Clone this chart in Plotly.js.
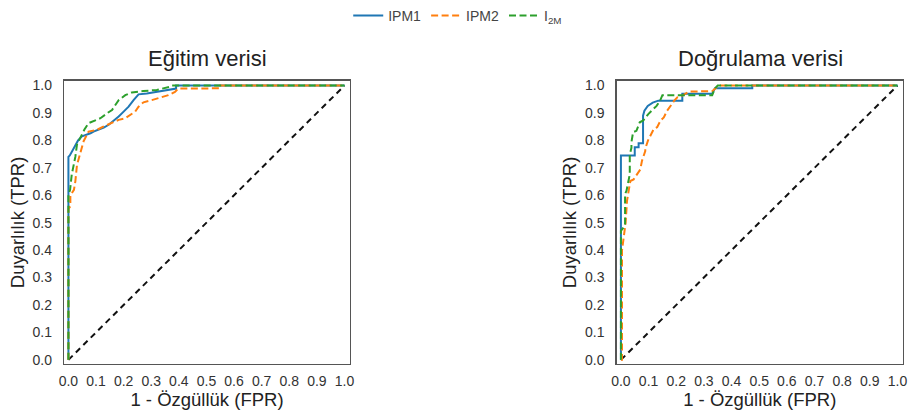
<!DOCTYPE html>
<html>
<head>
<meta charset="utf-8">
<script src="https://cdn.plot.ly/plotly-3.0.1.min.js"></script>
<style>html,body{margin:0;padding:0;background:#fff;}#chart{width:910px;height:415px;}</style>
</head>
<body>
<div id="chart"></div>
<script>
// ---- Data ----
const seriesNames = ["IPM1", "IPM2", "I<sub>2M</sub>"];
const subplotTitles = ["Eğitim verisi", "Doğrulama verisi"];
const tickVals = [0, 0.1, 0.2, 0.3, 0.4, 0.5, 0.6, 0.7, 0.8, 0.9, 1.0];
const tickText = ["0.0","0.1","0.2","0.3","0.4","0.5","0.6","0.7","0.8","0.9","1.0"];
const diagX = [0, 1];
const diagY = [0, 1];

// Training (Eğitim) set
const trainIPM1_fpr = [0, 0, 0.005, 0.01, 0.015, 0.02, 0.03, 0.035, 0.049, 0.067, 0.08, 0.091, 0.11, 0.128, 0.146, 0.164, 0.182, 0.2, 0.218, 0.236, 0.254, 0.284, 0.32, 0.356, 0.39, 0.39, 1];
const trainIPM1_tpr = [0, 0.74, 0.745, 0.755, 0.765, 0.775, 0.79, 0.8, 0.815, 0.82, 0.826, 0.832, 0.839, 0.847, 0.857, 0.871, 0.887, 0.905, 0.923, 0.947, 0.968, 0.971, 0.977, 0.983, 0.989, 1, 1];
const trainIPM2_fpr = [0, 0, 0.007, 0.007, 0.02, 0.025, 0.031, 0.043, 0.055, 0.073, 0.104, 0.128, 0.152, 0.182, 0.206, 0.224, 0.242, 0.254, 0.272, 0.302, 0.332, 0.362, 0.386, 0.398, 0.55, 0.55, 1];
const trainIPM2_tpr = [0, 0.55, 0.56, 0.6, 0.62, 0.65, 0.71, 0.755, 0.797, 0.832, 0.839, 0.851, 0.863, 0.875, 0.881, 0.893, 0.905, 0.923, 0.939, 0.947, 0.955, 0.965, 0.977, 0.989, 0.99, 1, 1];
const trainI2M_fpr = [0, 0, 0.006, 0.012, 0.019, 0.025, 0.031, 0.043, 0.058, 0.073, 0.092, 0.116, 0.14, 0.158, 0.17, 0.182, 0.206, 0.23, 0.272, 0.32, 0.369, 0.375, 1];
const trainI2M_tpr = [0, 0.6, 0.62, 0.675, 0.71, 0.74, 0.785, 0.809, 0.84, 0.863, 0.872, 0.881, 0.899, 0.911, 0.929, 0.947, 0.965, 0.975, 0.98, 0.984, 0.996, 1, 1];

// Validation (Doğrulama) set
const valIPM1_fpr = [0, 0, 0.05, 0.05, 0.064, 0.064, 0.08, 0.08, 0.085, 0.097, 0.115, 0.135, 0.16, 0.222, 0.222, 0.33, 0.34, 0.475, 0.475, 1];
const valIPM1_tpr = [0, 0.745, 0.745, 0.775, 0.775, 0.79, 0.79, 0.89, 0.908, 0.926, 0.938, 0.945, 0.945, 0.945, 0.97, 0.97, 0.99, 0.99, 1, 1];
const valIPM2_fpr = [0, 0.004, 0.004, 0.017, 0.022, 0.034, 0.046, 0.07, 0.076, 0.088, 0.088, 0.098, 0.119, 0.131, 0.143, 0.155, 0.167, 0.179, 0.192, 0.204, 0.222, 0.246, 0.331, 0.345, 0.36, 1];
const valIPM2_tpr = [0, 0, 0.4, 0.5, 0.58, 0.652, 0.658, 0.694, 0.725, 0.761, 0.77, 0.8, 0.842, 0.848, 0.872, 0.884, 0.908, 0.926, 0.944, 0.957, 0.963, 0.978, 0.98, 0.993, 1, 1];
const valI2M_fpr = [0, 0, 0.01, 0.015, 0.015, 0.02, 0.032, 0.032, 0.038, 0.038, 0.044, 0.056, 0.068, 0.081, 0.099, 0.111, 0.129, 0.141, 0.15, 0.33, 0.34, 0.35, 1];
const valI2M_tpr = [0, 0.47, 0.483, 0.496, 0.605, 0.616, 0.676, 0.748, 0.773, 0.793, 0.83, 0.835, 0.866, 0.873, 0.896, 0.908, 0.926, 0.944, 0.965, 0.965, 0.99, 1, 1];

// ---- Styles ----
const colors = ["#1f77b4", "#ff7f0e", "#2ca02c"];
const dashes = ["solid", "7px,3.5px", "7px,3.5px"];
const lw = 2;

function curve(x, y, i, xa, ya, show) {
  return {x: x, y: y, type: "scatter", mode: "lines", name: seriesNames[i],
    xaxis: xa, yaxis: ya, showlegend: show, hoverinfo: "skip",
    line: {color: colors[i], width: lw, dash: dashes[i]}};
}
function diag(xa, ya) {
  return {x: diagX, y: diagY, type: "scatter", mode: "lines", xaxis: xa, yaxis: ya,
    showlegend: false, hoverinfo: "skip", line: {color: "#111", width: 2, dash: "6px,4.5px"}};
}

const traces = [
  diag("x", "y"), diag("x2", "y2"),
  curve(trainIPM1_fpr, trainIPM1_tpr, 0, "x", "y", true),
  curve(trainIPM2_fpr, trainIPM2_tpr, 1, "x", "y", true),
  curve(trainI2M_fpr, trainI2M_tpr, 2, "x", "y", true),
  curve(valIPM1_fpr, valIPM1_tpr, 0, "x2", "y2", false),
  curve(valIPM2_fpr, valIPM2_tpr, 1, "x2", "y2", false),
  curve(valI2M_fpr, valI2M_tpr, 2, "x2", "y2", false)
];

const W = 910, H = 415;
const fontFam = "Liberation Sans, Arial, sans-serif";
const yDom = [1 - 364 / H, 1 - 79 / H];

function xAxis(dom, anchor) {
  return {domain: dom, anchor: anchor, range: [-0.016, 1.02], tickvals: tickVals, ticktext: tickText,
    showgrid: false, zeroline: false, showline: true, mirror: true, linecolor: "#555", linewidth: 1.2,
    ticks: "outside", ticklen: 4, tickcolor: "rgba(0,0,0,0)",
    tickfont: {family: fontFam, size: 14, color: "#333"},
    title: {text: "1 - Özgüllük (FPR)", standoff: 1, font: {family: fontFam, size: 18.5, color: "#222"}}};
}
function yAxis(anchor) {
  return {domain: yDom, anchor: anchor, range: [-0.016, 1.018], tickvals: tickVals, ticktext: tickText,
    showgrid: false, zeroline: false, showline: true, mirror: true, linecolor: "#555", linewidth: 1.2,
    ticks: "outside", ticklen: 8, tickcolor: "rgba(0,0,0,0)",
    tickfont: {family: fontFam, size: 14, color: "#333"},
    title: {text: "Duyarlılık (TPR)", standoff: 3, font: {family: fontFam, size: 18.5, color: "#222"}}};
}

const layout = {
  width: W, height: H, margin: {l: 0, r: 0, t: 0, b: 0},
  paper_bgcolor: "#fff", plot_bgcolor: "#fff",
  font: {family: fontFam, color: "#333"},
  xaxis: xAxis([64 / W, 350 / W], "y"),
  yaxis: yAxis("x"),
  xaxis2: xAxis([616.5 / W, 903 / W], "y2"),
  yaxis2: yAxis("x2"),
  showlegend: true,
  legend: {orientation: "h", x: 0.503, xanchor: "center", y: 1.005, yanchor: "top",
    font: {family: fontFam, size: 14, color: "#444"}, bgcolor: "rgba(0,0,0,0)"},
  annotations: [
    {text: subplotTitles[0], xref: "paper", yref: "paper", x: 207 / W, y: 1 - 57 / H,
      xanchor: "center", yanchor: "middle", showarrow: false, font: {family: fontFam, size: 22, color: "#222"}},
    {text: subplotTitles[1], xref: "paper", yref: "paper", x: 760 / W, y: 1 - 57 / H,
      xanchor: "center", yanchor: "middle", showarrow: false, font: {family: fontFam, size: 22, color: "#222"}}
  ]
};

Plotly.newPlot("chart", traces, layout, {displayModeBar: false, staticPlot: true});
</script>
</body>
</html>
